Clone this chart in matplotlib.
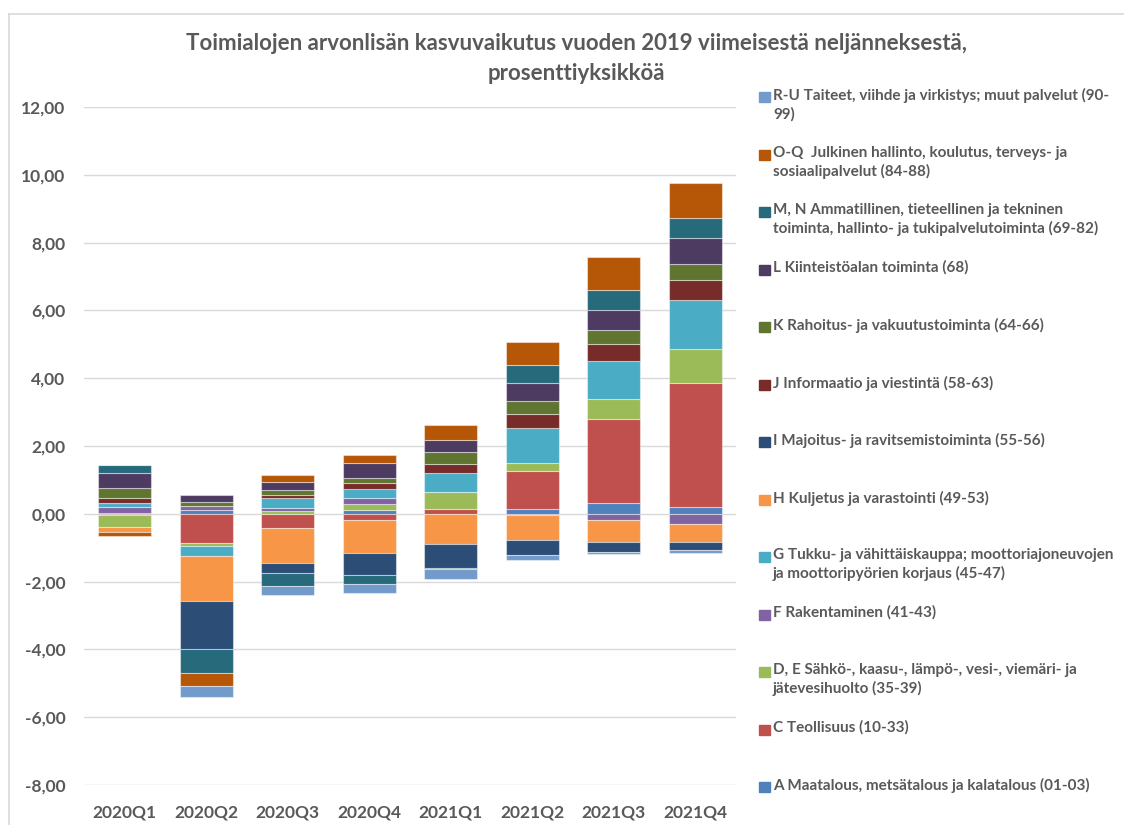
import numpy as np
import matplotlib
matplotlib.use("Agg")
import matplotlib.pyplot as plt
from matplotlib.patches import Rectangle
from matplotlib.lines import Line2D

quarters = ["2020Q1", "2020Q2", "2020Q3", "2020Q4", "2021Q1", "2021Q2", "2021Q3", "2021Q4"]

A_vals  = [0.03, 0.10, 0.00, 0.12, 0.00, 0.15, 0.31, 0.19]
C_vals  = [-0.03, -0.87, -0.42, -0.18, 0.14, 1.11, 2.49, 3.68]
DE_vals = [-0.37, -0.08, 0.07, 0.16, 0.50, 0.24, 0.58, 0.98]
F_vals  = [0.18, 0.14, 0.10, 0.20, 0.00, -0.05, -0.17, -0.31]
G_vals  = [0.12, -0.30, 0.30, 0.24, 0.56, 1.03, 1.14, 1.47]
H_vals  = [-0.14, -1.31, -1.02, -0.99, -0.90, -0.71, -0.66, -0.51]
I_vals  = [0.00, -1.43, -0.30, -0.64, -0.69, -0.47, -0.30, -0.26]
J_vals  = [0.14, 0.00, 0.09, 0.20, 0.28, 0.42, 0.50, 0.57]
K_vals  = [0.28, 0.12, 0.15, 0.13, 0.35, 0.38, 0.39, 0.48]
L_vals  = [0.45, 0.20, 0.24, 0.44, 0.34, 0.53, 0.61, 0.76]
MN_vals = [0.23, -0.71, -0.40, -0.26, -0.05, 0.54, 0.57, 0.59]
OQ_vals = [-0.12, -0.37, 0.20, 0.25, 0.45, 0.68, 0.98, 1.03]
RU_vals = [0.00, -0.34, -0.27, -0.28, -0.29, -0.12, -0.07, -0.07]

series_labels = [
    "A Maatalous, metsätalous ja kalatalous (01-03)",
    "C Teollisuus (10-33)",
    "D, E Sähkö-, kaasu-, lämpö-, vesi-, viemäri- ja\njätevesihuolto (35-39)",
    "F Rakentaminen (41-43)",
    "G Tukku- ja vähittäiskauppa; moottoriajoneuvojen\nja moottoripyörien korjaus (45-47)",
    "H Kuljetus ja varastointi (49-53)",
    "I Majoitus- ja ravitsemistoiminta (55-56)",
    "J Informaatio ja viestintä (58-63)",
    "K Rahoitus- ja vakuutustoiminta (64-66)",
    "L Kiinteistöalan toiminta (68)",
    "M, N Ammatillinen, tieteellinen ja tekninen\ntoiminta, hallinto- ja tukipalvelutoiminta (69-82)",
    "O-Q  Julkinen hallinto, koulutus, terveys- ja\nsosiaalipalvelut (84-88)",
    "R-U Taiteet, viihde ja virkistys; muut palvelut (90-\n99)",
]
series_values = [A_vals, C_vals, DE_vals, F_vals, G_vals, H_vals, I_vals,
                 J_vals, K_vals, L_vals, MN_vals, OQ_vals, RU_vals]
colors = ["#4F81BD", "#C0504D", "#9BBB59", "#8064A2", "#4BACC6", "#F79646",
          "#2C4D75", "#772C2A", "#5F7530", "#4D3B62", "#276A7C", "#B65708", "#729ACA"]

yticks = [12, 10, 8, 6, 4, 2, 0, -2, -4, -6, -8]
ytick_labels = ["12,00", "10,00", "8,00", "6,00", "4,00", "2,00", "0,00",
                "-2,00", "-4,00", "-6,00", "-8,00"]

title = "Toimialojen arvonlisän kasvuvaikutus vuoden 2019 viimeisestä neljänneksestä,\nprosenttiyksikköä"

FONT = "Lato"
TXT = "#595959"
W, H = 1124, 825

fig = plt.figure(figsize=(W / 100, H / 100), dpi=100)
ax = fig.add_axes([84 / W, 1 - 785 / H, (736 - 84) / W, (785 - 107) / H])

x = np.arange(len(quarters))
pos_bottom = np.zeros(len(quarters))
neg_bottom = np.zeros(len(quarters))
for vals, col, lab in zip(series_values, colors, series_labels):
    v = np.array(vals, dtype=float)
    bottom = np.where(v >= 0, pos_bottom, neg_bottom)
    ax.bar(x, v, bottom=bottom, width=0.65, color=col,
           edgecolor=(1, 1, 1, 0.45), linewidth=0.8, zorder=3, label=lab)
    pos_bottom = pos_bottom + np.where(v > 0, v, 0)
    neg_bottom = neg_bottom + np.where(v < 0, v, 0)

ax.set_xlim(-0.5, len(quarters) - 0.5)
ax.set_ylim(-8, 12)
ax.set_yticks(yticks)
ax.set_yticklabels(ytick_labels, fontfamily=FONT, fontweight="bold", fontsize=12.5, color=TXT)
ax.set_xticks(x)
ax.set_xticklabels(quarters, fontfamily=FONT, fontweight="bold", fontsize=12.5, color=TXT)
ax.tick_params(axis="y", length=0, pad=13.5)
ax.tick_params(axis="x", length=0, pad=14)
ax.grid(axis="y", color="#D9D9D9", linewidth=1.0, zorder=0)
for s in ax.spines.values():
    s.set_visible(False)

fig.text(576 / W, 1 - 33 / H, title, ha="center", va="top", fontfamily=FONT,
         fontweight="bold", fontsize=16, color=TXT, linespacing=1.55)

# legend (reverse order), manually placed
first_y = 97
step = 57.5
for i, (lab, col) in enumerate(zip(series_labels[::-1], colors[::-1])):
    yc = first_y + i * step
    fig.patches.append(Rectangle((759 / W, 1 - (yc + 5) / H), 11 / W, 10 / H,
                                 transform=fig.transFigure, color=col))
    fig.text(773 / W, 1 - (yc - 9) / H, lab, ha="left", va="top", fontfamily=FONT,
             fontweight="bold", fontsize=11.0, color=TXT, linespacing=1.35)

# chart border
fig.add_artist(Line2D([9 / W, 1], [1 - 14 / H, 1 - 14 / H], transform=fig.transFigure,
                      color="#D9D9D9", linewidth=1.2))
fig.add_artist(Line2D([9 / W, 9 / W], [0, 1 - 14 / H], transform=fig.transFigure,
                      color="#D9D9D9", linewidth=1.2))

fig.savefig("out.png", dpi=100)
